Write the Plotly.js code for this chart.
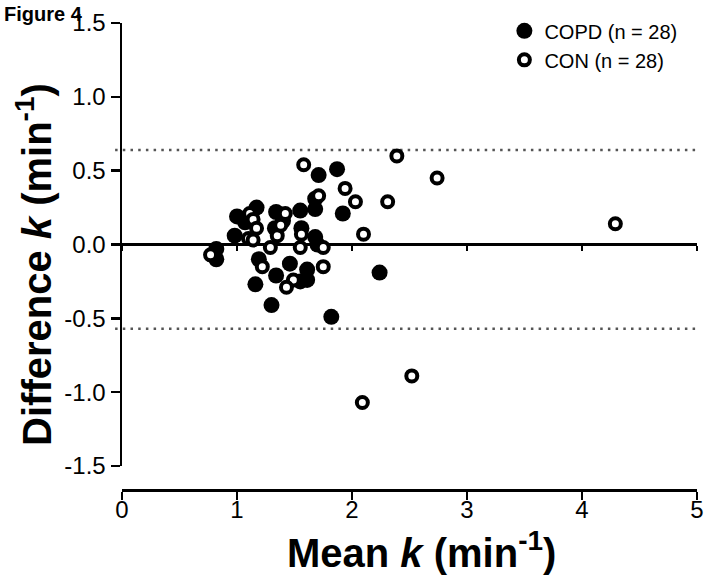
<!DOCTYPE html>
<html>
<head>
<meta charset="utf-8">
<script src="https://cdn.plot.ly/plotly-3.0.1.min.js"></script>
<style>
html,body{margin:0;padding:0;background:#fff;}
#chart{width:707px;height:577px;}
</style>
</head>
<body>
<div id="chart"></div>
<script>
// COPD (filled) : mean k vs difference k
const copdMean = [1.87,1.71,1.68,1.68,1.55,1.92,1.56,1.68,1.70,2.24,1.61,1.61,1.46,1.34,1.16,1.30,1.82,1.19,0.82,0.82,0.98,1.00,1.07,1.17,1.34,1.40,1.33,1.55];
const copdDiff = [0.51,0.47,0.31,0.24,0.23,0.21,0.11,0.05,0.00,-0.19,-0.17,-0.24,-0.13,-0.21,-0.27,-0.41,-0.49,-0.10,-0.03,-0.10,0.06,0.19,0.15,0.25,0.22,0.16,0.11,-0.25];
// CON (open)
const conMean = [2.39,2.74,2.31,4.29,2.10,2.52,2.09,1.58,1.94,1.71,2.03,1.55,1.75,1.75,1.49,1.43,1.22,1.29,0.77,1.10,1.14,1.11,1.14,1.42,1.35,1.56,1.38,1.17];
const conDiff = [0.60,0.45,0.29,0.14,0.07,-0.89,-1.07,0.54,0.38,0.33,0.29,-0.02,-0.02,-0.15,-0.24,-0.29,-0.15,-0.02,-0.07,0.04,0.03,0.21,0.17,0.21,0.06,0.07,0.13,0.11];
// limits of agreement
const loaUpper = 0.64;
const loaLower = -0.57;
// axis ticks
const xTicks = [0,1,2,3,4,5];
const yTicks = [-1.5,-1.0,-0.5,0.0,0.5,1.0,1.5];

const yRange = [-1.5, 1.5];
const yDomain = [0.0514, 1];
const zeroPos = yDomain[0] + (0 - yRange[0]) / (yRange[1] - yRange[0]) * (yDomain[1] - yDomain[0]);

const FONT = 'Liberation Sans, Arial, Helvetica, sans-serif';

const traces = [
  {
    type: 'scatter', mode: 'markers', name: 'COPD (n = 28)',
    x: copdMean, y: copdDiff, cliponaxis: false,
    marker: {symbol: 'circle', size: 16, color: '#000'},
    hoverinfo: 'x+y'
  },
  {
    type: 'scatter', mode: 'markers', name: 'CON (n = 28)',
    x: conMean, y: conDiff, cliponaxis: false,
    marker: {symbol: 'circle', size: 11, color: '#fff', line: {color: '#000', width: 4}},
    hoverinfo: 'x+y'
  },
  {
    type: 'scatter', mode: 'markers', x: [], y: [], xaxis: 'x2', yaxis: 'y',
    showlegend: false, hoverinfo: 'skip'
  }
];

const layout = {
  width: 707, height: 577,
  margin: {l: 122, r: 10, t: 23, b: 87},
  paper_bgcolor: '#fff', plot_bgcolor: '#fff',
  font: {family: FONT, color: '#000', size: 22},
  showlegend: true,
  legend: {
    x: 0.665, y: 1.025, xanchor: 'left', yanchor: 'top',
    font: {family: FONT, size: 20, color: '#000'},
    bgcolor: 'rgba(0,0,0,0)', borderwidth: 0
  },
  xaxis: {
    range: [0, 5], tickvals: xTicks, ticktext: xTicks.map(String),
    anchor: 'free', position: 0,
    showgrid: false, zeroline: false,
    showline: true, linecolor: '#000', linewidth: 2.5,
    ticks: 'outside', ticklen: 8, tickwidth: 2.5, tickcolor: '#000',
    ticklabelstandoff: -10,
    tickfont: {family: FONT, size: 24, color: '#000'},
    title: {text: ''}
  },
  xaxis2: {
    range: [0, 5], overlaying: 'x', anchor: 'free', position: zeroPos, side: 'bottom',
    tickvals: xTicks, showticklabels: false,
    showgrid: false, zeroline: false,
    showline: true, linecolor: '#000', linewidth: 2.5,
    ticks: 'outside', ticklen: 5, tickwidth: 2, tickcolor: '#000',
    layer: 'below traces'
  },
  yaxis: {
    range: yRange, domain: yDomain, tickvals: yTicks,
    ticktext: yTicks.map(v => v.toFixed(1)),
    showgrid: false, zeroline: false,
    showline: true, linecolor: '#000', linewidth: 2.5,
    ticks: 'outside', ticklen: 9, tickwidth: 2.5, tickcolor: '#000',
    tickfont: {family: FONT, size: 24, color: '#000'},
    title: {text: ''}
  },
  shapes: [
    {type: 'line', xref: 'paper', x0: -0.012, x1: 1, yref: 'y', y0: loaUpper, y1: loaUpper,
     line: {color: '#555', width: 2.5, dash: '2.5px,5.2px'}, layer: 'below'},
    {type: 'line', xref: 'paper', x0: -0.012, x1: 1, yref: 'y', y0: loaLower, y1: loaLower,
     line: {color: '#555', width: 2.5, dash: '2.5px,5.2px'}, layer: 'below'}
  ],
  annotations: [
    {text: '<b>Mean <i>k</i> (min<sup>-1</sup>)</b>',
     xref: 'paper', yref: 'paper', x: 0.52, y: -0.128, xanchor: 'center', yanchor: 'middle',
     showarrow: false, font: {family: FONT, size: 40, color: '#000'}},
    {text: '<b>Difference <i>k</i> (min<sup>-1</sup>)</b>', textangle: -90,
     xref: 'paper', yref: 'paper', x: -0.153, y: 0.482, xanchor: 'center', yanchor: 'middle',
     showarrow: false, font: {family: FONT, size: 40, color: '#000'}},
    {text: '<b>Figure 4</b>', xref: 'paper', yref: 'paper', x: -0.209, y: 1.02,
     xanchor: 'left', yanchor: 'middle', showarrow: false,
     font: {family: FONT, size: 20, color: '#000'}}
  ]
};

Plotly.newPlot('chart', traces, layout, {displayModeBar: false, staticPlot: true});
</script>
</body>
</html>
